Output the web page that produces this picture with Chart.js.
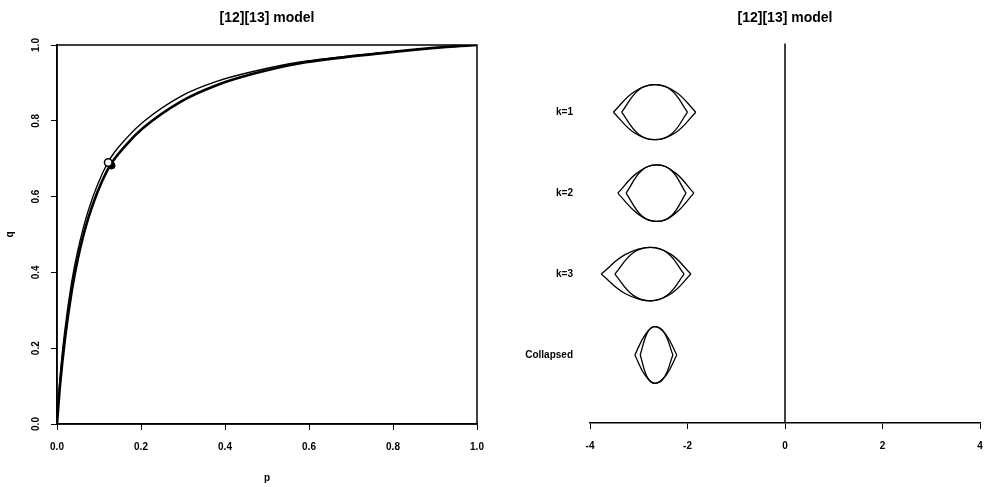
<!DOCTYPE html>
<html>
<head>
<meta charset="utf-8">
<script src="https://cdn.jsdelivr.net/npm/chart.js@4/dist/chart.umd.min.js"></script>
<style>
  html, body { margin: 0; padding: 0; background: #fff; }
  #wrap { position: relative; width: 985px; height: 487px; }
  canvas { position: absolute; top: 0; }
  #left { left: 0; }
  #right { left: 490px; }
</style>
</head>
<body>
<div id="wrap">
  <canvas id="left" width="490" height="487"></canvas>
  <canvas id="right" width="495" height="487"></canvas>
</div>
<script>
// ---------- Left panel data (p, q) ----------
const titleText = '[12][13] model';
const pUpper = [0, 0.007, 0.019, 0.035, 0.049, 0.075, 0.12, 0.166, 0.205, 0.297, 0.38, 0.467, 0.579, 0.769, 0.928, 1];
const qUpper = [0, 0.12, 0.25, 0.375, 0.455, 0.565, 0.688, 0.755, 0.797, 0.866, 0.904, 0.93, 0.955, 0.979, 0.995, 1];
const pLower = [0, 0.007, 0.019, 0.035, 0.049, 0.075, 0.12, 0.166, 0.205, 0.297, 0.38, 0.467, 0.579, 0.769, 0.928, 1];
const qLower = [0, 0.10, 0.225, 0.35, 0.433, 0.545, 0.67, 0.738, 0.781, 0.852, 0.894, 0.924, 0.952, 0.978, 0.995, 1];
const openMarker = [0.122, 0.69];
const filledMarker = [0.13, 0.682];
const leftXTicks = [0, 0.2, 0.4, 0.6, 0.8, 1.0];
const leftYTicks = [0, 0.2, 0.4, 0.6, 0.8, 1.0];

// ---------- Right panel data ----------
const rowLabels = ['k=1', 'k=2', 'k=3', 'Collapsed'];
const rowPos = [4, 3, 2, 1];
const rightXTicks = [-4, -2, 0, 2, 4];
const refLineX = 0;

// eye outlines: [x, y] points, upper and lower arcs of outer and inner lenses
const k1OuterTop = [[-3.52,4.00],[-3.10,4.25],[-2.67,4.34],[-2.24,4.25],[-1.83,4.00]];
const k1OuterBot = [[-3.52,4.00],[-3.10,3.75],[-2.67,3.66],[-2.24,3.75],[-1.83,4.00]];
const k1InnerTop = [[-3.35,4.00],[-3.01,4.27],[-2.67,4.34],[-2.33,4.27],[-2.00,4.00]];
const k1InnerBot = [[-3.35,4.00],[-3.01,3.73],[-2.67,3.66],[-2.33,3.73],[-2.00,4.00]];

const k2OuterTop = [[-3.43,3.00],[-3.03,3.25],[-2.63,3.35],[-2.25,3.25],[-1.87,3.00]];
const k2OuterBot = [[-3.43,3.00],[-3.03,2.75],[-2.63,2.65],[-2.25,2.75],[-1.87,3.00]];
const k2InnerTop = [[-3.26,3.00],[-2.94,3.28],[-2.63,3.35],[-2.33,3.28],[-2.03,3.00]];
const k2InnerBot = [[-3.26,3.00],[-2.94,2.72],[-2.63,2.65],[-2.33,2.72],[-2.03,3.00]];

const k3OuterTop = [[-3.77,2.00],[-3.28,2.24],[-2.76,2.33],[-2.33,2.24],[-1.93,2.00]];
const k3OuterBot = [[-3.77,2.00],[-3.28,1.76],[-2.76,1.67],[-2.33,1.76],[-1.93,2.00]];
const k3InnerTop = [[-3.49,2.00],[-3.12,2.26],[-2.76,2.33],[-2.41,2.26],[-2.07,2.00]];
const k3InnerBot = [[-3.49,2.00],[-3.12,1.74],[-2.76,1.67],[-2.41,1.74],[-2.07,2.00]];

const colOuterTop = [[-3.08,1.00],[-2.87,1.25],[-2.67,1.35],[-2.44,1.25],[-2.22,1.00]];
const colOuterBot = [[-3.08,1.00],[-2.87,0.75],[-2.67,0.65],[-2.44,0.75],[-2.22,1.00]];
const colInnerTop = [[-2.97,1.00],[-2.82,1.28],[-2.67,1.35],[-2.48,1.28],[-2.30,1.00]];
const colInnerBot = [[-2.97,1.00],[-2.82,0.72],[-2.67,0.65],[-2.48,0.72],[-2.30,1.00]];

const eyeArcs = [k1OuterTop, k1OuterBot, k1InnerTop, k1InnerBot,
                 k2OuterTop, k2OuterBot, k2InnerTop, k2InnerBot,
                 k3OuterTop, k3OuterBot, k3InnerTop, k3InnerBot,
                 colOuterTop, colOuterBot, colInnerTop, colInnerBot];

// ---------- common styling ----------
Chart.defaults.color = '#000';
const FONT_FAM = "'Liberation Sans', Arial, sans-serif";
Chart.defaults.font.family = FONT_FAM;
const tickFont = { family: FONT_FAM, size: 10, weight: 'bold' };
const titleFont = { family: FONT_FAM, size: 14, weight: 'bold' };

const boxPlugin = {
  id: 'box',
  afterDraw(chart) {
    const a = chart.chartArea, ctx = chart.ctx;
    ctx.save();
    ctx.strokeStyle = '#000';
    ctx.lineWidth = 1.5;
    ctx.strokeRect(a.left, a.top, a.right - a.left, a.bottom - a.top);
    ctx.restore();
  }
};

const toXY = (xs, ys) => xs.map((x, i) => ({ x: x, y: ys[i] }));
const noSidePad = s => { s.paddingLeft = 0; s.paddingRight = 0; };

// ---------- Left chart ----------
new Chart(document.getElementById('left'), {
  type: 'scatter',
  data: {
    datasets: [
      { data: toXY(pUpper, qUpper), showLine: true, borderColor: '#000', borderWidth: 1.4,
        pointRadius: 0, cubicInterpolationMode: 'monotone', order: 2 },
      { data: toXY(pLower, qLower), showLine: true, borderColor: '#000', borderWidth: 2.6,
        pointRadius: 0, cubicInterpolationMode: 'monotone', order: 3 },
      { data: [{ x: filledMarker[0], y: filledMarker[1] }], pointRadius: 3.5,
        pointBackgroundColor: '#000', pointBorderColor: '#000', order: 1 },
      { data: [{ x: openMarker[0], y: openMarker[1] }], pointRadius: 3.8, pointBorderWidth: 1.5,
        pointBackgroundColor: '#fff', pointBorderColor: '#000', order: 0 }
    ]
  },
  options: {
    responsive: false, animation: false, devicePixelRatio: 1,
    layout: { padding: { left: 0, right: 13, top: 0, bottom: 0 } },
    plugins: {
      legend: { display: false }, tooltip: { enabled: false },
      title: { display: true, text: titleText, font: titleFont, color: '#000', fullSize: false,
               padding: { top: 10, bottom: 18.2 } }
    },
    scales: {
      x: {
        type: 'linear', min: 0, max: 1,
        afterBuildTicks: s => { s.ticks = leftXTicks.map(v => ({ value: v })); },
        ticks: { font: tickFont, color: '#000', padding: 11, maxRotation: 0,
                 callback: v => v.toFixed(1) },
        grid: { drawOnChartArea: false, drawTicks: true, tickLength: 6, color: '#000', lineWidth: 1 },
        border: { display: true, color: '#000', width: 1.5 },
        title: { display: true, text: 'p', font: tickFont, color: '#000', padding: { top: 0, bottom: 3 } },
        afterFit: s => { s.height = 63; noSidePad(s); }
      },
      y: {
        type: 'linear', min: 0, max: 1,
        afterBuildTicks: s => { s.ticks = leftYTicks.map(v => ({ value: v })); },
        ticks: { font: tickFont, color: '#000', padding: 8, minRotation: 90, maxRotation: 90,
                 crossAlign: 'center', callback: v => v.toFixed(1) },
        grid: { drawOnChartArea: false, drawTicks: true, tickLength: 6, color: '#000', lineWidth: 1 },
        border: { display: true, color: '#000', width: 1.5 },
        title: { display: true, text: 'q', font: tickFont, color: '#000', padding: { top: 4, bottom: 0 } },
        afterFit: s => { s.width = 57; }
      }
    }
  },
  plugins: [boxPlugin]
});

// ---------- Right chart ----------
const rightDatasets = eyeArcs.map(arc => ({
  data: arc.map(p => ({ x: p[0], y: p[1] })),
  showLine: true, borderColor: '#000', borderWidth: 1.3, pointRadius: 0, tension: 0.4
}));
rightDatasets.push({
  data: [{ x: refLineX, y: 0.16 }, { x: refLineX, y: 4.85 }],
  showLine: true, borderColor: '#000', borderWidth: 1.5, pointRadius: 0, clip: false
});

new Chart(document.getElementById('right'), {
  type: 'scatter',
  data: { datasets: rightDatasets },
  options: {
    responsive: false, animation: false, devicePixelRatio: 1,
    layout: { padding: { left: 0, right: 5, top: 0, bottom: 0 } },
    plugins: {
      legend: { display: false }, tooltip: { enabled: false },
      title: { display: true, text: titleText, font: titleFont, color: '#000', fullSize: false,
               padding: { top: 10, bottom: 18.2 } }
    },
    scales: {
      x: {
        type: 'linear', min: -4, max: 4,
        afterBuildTicks: s => { s.ticks = rightXTicks.map(v => ({ value: v })); },
        ticks: { font: tickFont, color: '#000', padding: 11, maxRotation: 0 },
        grid: { drawOnChartArea: false, drawTicks: true, tickLength: 6, color: '#000', lineWidth: 1 },
        border: { display: true, color: '#000', width: 1.5 },
        afterFit: s => { s.height = 64; noSidePad(s); }
      },
      y: {
        type: 'linear', min: 0.16, max: 4.83,
        afterBuildTicks: s => { s.ticks = rowPos.map(v => ({ value: v })); },
        ticks: { font: tickFont, color: '#000', padding: 17, crossAlign: 'near',
                 callback: v => rowLabels[rowPos.indexOf(v)] },
        grid: { display: false, drawTicks: false },
        border: { display: false },
        afterFit: s => { s.width = 100; }
      }
    }
  }
});
</script>
</body>
</html>
